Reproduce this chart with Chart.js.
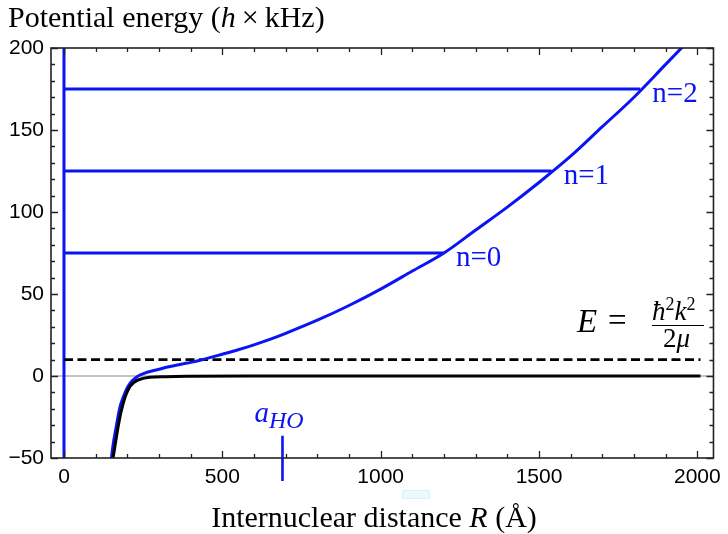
<!DOCTYPE html>
<html>
<head>
<meta charset="utf-8">
<script src="https://cdn.jsdelivr.net/npm/chart.js@4/dist/chart.umd.min.js"></script>
<style>
  body { margin: 0; background: #fff; }
  #wrap { width: 728px; height: 534px; }
</style>
</head>
<body>
<div id="wrap"><canvas id="chart" width="728" height="534"></canvas></div>
<script>
// curves (R in Å, energy in h×kHz)
const curveR = [148, 155, 164, 170, 176, 185, 192, 200, 208, 216, 224, 232, 240, 255, 271, 300, 323, 350, 376, 400, 430, 460, 500, 550, 600, 650, 700, 800, 900, 1000, 1100, 1200, 1300, 1400, 1500, 1600, 1700, 1800, 1900, 1960];
const blueEnergy = [-53, -42, -32, -25.5, -19.5, -14, -10.5, -7.2, -4.6, -2.8, -1.4, -0.3, 0.6, 1.8, 2.7, 4.1, 5.3, 6.4, 7.4, 8.3, 9.6, 11.2, 13.3, 16, 19, 22.3, 26, 34, 43, 53, 64, 75, 89, 103, 118, 134, 152, 170, 190, 202];
const blackR = [148, 160, 170, 180, 192, 200, 208, 216, 224, 240, 271, 323, 400, 600, 1000, 2010];
const blackEnergy = [-58, -44, -32, -22, -13.4, -9.5, -6.5, -4.8, -3.5, -2, -0.8, -0.4, -0.2, -0.05, 0, 0];

const levelEnergy = [75, 125, 175];
const levelEndR = [1200, 1540, 1820];
const levelLabels = ['n=0', 'n=1', 'n=2'];

const collisionEnergy = 10;
const dashEndR = 2010;
const aHO = 690;
const aHOMark = [-36.5, -64];

const xTicks = [0, 500, 1000, 1500, 2000];
const yTicks = [-50, 0, 50, 100, 150, 200];

const BLUE = '#0a14f5';
const SERIF = '"Liberation Serif", "DejaVu Serif", serif';

const toPts = (xs, ys) => xs.map((x, i) => ({ x: x, y: ys[i] }));

const datasets = [
  { data: toPts(blackR, blackEnergy), borderColor: '#000', borderWidth: 3, cubicInterpolationMode: 'monotone' },
  { data: toPts(curveR, blueEnergy), borderColor: BLUE, borderWidth: 3, cubicInterpolationMode: 'monotone' },
  { data: [{ x: 0, y: collisionEnergy }, { x: dashEndR, y: collisionEnergy }], borderColor: '#000', borderWidth: 2.6, borderDash: [9, 4.5] },
  { data: [{ x: 0, y: -50 }, { x: 0, y: 200 }], borderColor: BLUE, borderWidth: 3 },
  { data: [{ x: aHO, y: aHOMark[0] }, { x: aHO, y: aHOMark[1] }], borderColor: BLUE, borderWidth: 2.6, clip: false }
];
levelEnergy.forEach((e, i) => {
  datasets.push({ data: [{ x: 0, y: e }, { x: levelEndR[i], y: e }], borderColor: BLUE, borderWidth: 3 });
});

const framePlugin = {
  id: 'frame',
  beforeDatasetsDraw(chart) {
    const { ctx, chartArea: a, scales } = chart;
    const y0 = scales.y.getPixelForValue(0);
    ctx.save();
    ctx.strokeStyle = '#8a8a8a';
    ctx.lineWidth = 1;
    ctx.beginPath();
    ctx.moveTo(a.left, y0);
    ctx.lineTo(a.right, y0);
    ctx.stroke();
    ctx.restore();
  },
  afterDatasetsDraw(chart) {
    const { ctx, chartArea: a, scales } = chart;
    ctx.save();
    ctx.strokeStyle = '#222';
    ctx.lineWidth = 1.3;
    ctx.beginPath();
    for (let v = 0; v <= 2000; v += 100) {
      const px = Math.round(scales.x.getPixelForValue(v)) + 0.5;
      const len = v % 500 === 0 ? 7 : 4;
      ctx.moveTo(px, a.bottom); ctx.lineTo(px, a.bottom - len);
      ctx.moveTo(px, a.top); ctx.lineTo(px, a.top + len);
    }
    for (let v = -50; v <= 200; v += 10) {
      const py = Math.round(scales.y.getPixelForValue(v)) + 0.5;
      const len = v % 50 === 0 ? 7 : 4;
      ctx.moveTo(a.left, py); ctx.lineTo(a.left + len, py);
      ctx.moveTo(a.right, py); ctx.lineTo(a.right - len, py);
    }
    ctx.stroke();
    ctx.lineWidth = 1.6;
    ctx.strokeRect(a.left, a.top, a.right - a.left, a.bottom - a.top);
    ctx.restore();
  },
  afterDraw(chart) {
    const { ctx, scales } = chart;
    ctx.save();
    ctx.textBaseline = 'alphabetic';
    ctx.textAlign = 'left';

    // run of text pieces: [text, italic, size, dy]
    const setFont = p => { ctx.font = (p[1] ? 'italic ' : '') + p[2] + 'px ' + SERIF; };
    const run = (x, y, parts, color) => {
      ctx.fillStyle = color;
      parts.forEach(p => {
        setFont(p);
        ctx.fillText(p[0], x, y + (p[3] || 0));
        x += ctx.measureText(p[0]).width;
      });
      return x;
    };

    // y title
    run(8, 27, [['Potential energy (', false, 30], ['h', true, 30], ['\u2009\u00d7\u2009', false, 30], ['kHz)', false, 30]], '#000');

    // x title centred
    const xParts = [['Internuclear distance ', false, 30], ['R', true, 30], [' (\u00c5)', false, 30]];
    let w = 0;
    xParts.forEach(p => { setFont(p); w += ctx.measureText(p[0]).width; });
    run(374 - w / 2, 527, xParts, '#000');

    // level labels
    levelEnergy.forEach((e, i) => {
      const px = scales.x.getPixelForValue(levelEndR[i]) + 12;
      const py = scales.y.getPixelForValue(e) + 13;
      run(px, py, [[levelLabels[i], false, 29]], BLUE);
    });

    // a_HO label
    const ax = scales.x.getPixelForValue(aHO);
    run(ax - 28, 422, [['a', true, 29], ['HO', true, 24, 6]], BLUE);

    // E = hbar^2 k^2 / 2 mu
    run(577, 332, [['E', true, 33]], '#000');
    run(608, 331, [['=', false, 33]], '#000');
    run(652, 320, [['\u0127', true, 27], ['2', false, 18, -10], ['k', true, 27], ['2', false, 18, -10]], '#000');
    ctx.strokeStyle = '#000';
    ctx.lineWidth = 1.2;
    ctx.beginPath();
    ctx.moveTo(652, 325.5); ctx.lineTo(704, 325.5);
    ctx.stroke();
    run(663, 347, [['2', false, 27], ['\u03bc', true, 27]], '#000');

    // faint artifact box
    ctx.fillStyle = 'rgba(200, 240, 248, 0.35)';
    ctx.fillRect(402, 490, 28, 9);
    ctx.strokeStyle = 'rgba(190, 235, 245, 0.5)';
    ctx.lineWidth = 1;
    ctx.strokeRect(402.5, 490.5, 27, 8);
    ctx.restore();
  }
};

new Chart(document.getElementById('chart'), {
  type: 'line',
  data: { datasets: datasets },
  options: {
    responsive: false,
    animation: false,
    layout: { padding: { left: 0, top: 48, right: 13, bottom: 0 } },
    elements: { point: { radius: 0 }, line: { tension: 0 } },
    plugins: { legend: { display: false }, tooltip: { enabled: false } },
    scales: {
      x: {
        type: 'linear',
        min: -41,
        max: 2051,
        grid: { display: false, drawTicks: false },
        border: { display: false },
        afterBuildTicks: s => { s.ticks = xTicks.map(v => ({ value: v })); },
        afterFit: s => { s.height = 76; },
        ticks: {
          color: '#000',
          font: { family: '"Liberation Sans", Arial, sans-serif', size: 21 },
          padding: 7,
          maxRotation: 0,
          callback: v => String(v)
        }
      },
      y: {
        type: 'linear',
        min: -50,
        max: 200,
        grid: { display: false, drawTicks: false },
        border: { display: false },
        afterBuildTicks: s => { s.ticks = yTicks.map(v => ({ value: v })); },
        afterFit: s => { s.width = 51; },
        ticks: {
          color: '#000',
          font: { family: '"Liberation Sans", Arial, sans-serif', size: 21 },
          padding: 7,
          callback: v => String(v).replace('-', '\u2212')
        }
      }
    }
  },
  plugins: [framePlugin]
});
</script>
</body>
</html>
